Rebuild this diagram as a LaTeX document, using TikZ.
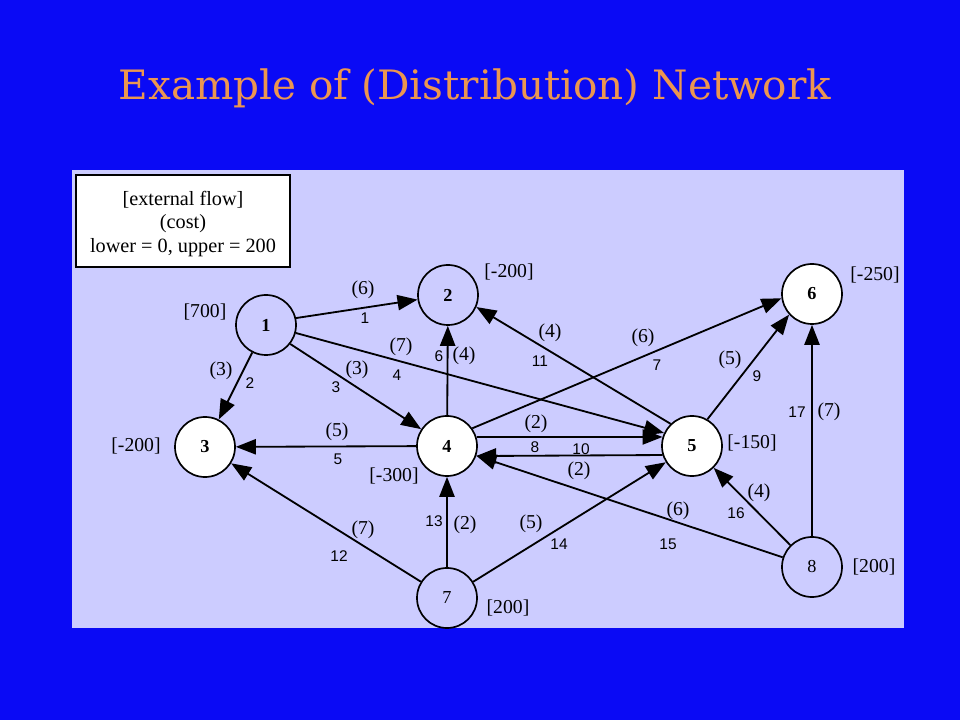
\documentclass[tikz,border=0pt]{standalone}
\usepackage{fontspec}
\setmainfont{Liberation Serif}
\setsansfont{Liberation Sans}
\newfontfamily\titlefont{DejaVu Serif}
\usetikzlibrary{arrows.meta,positioning}
\definecolor{slideblue}{RGB}{10,10,245}
\definecolor{panel}{RGB}{204,204,255}
\definecolor{titleorange}{RGB}{235,150,80}
\begin{document}
\begin{tikzpicture}[x=0.025cm,y=-0.025cm,
    vertex/.style={circle,draw,line width=1.2pt,minimum size=1.5cm,inner sep=0pt,fill=white,
                   font=\fontsize{13}{15}\selectfont\bfseries},
    pale/.style={vertex,fill=panel},
    arc/.style={line width=1.3pt,-{Triangle[length=0.5cm,width=0.38cm]}},
    cost/.style={font=\fontsize{14}{16}\selectfont,inner sep=0pt},
    idx/.style={font=\sffamily\fontsize{11}{13}\selectfont,inner sep=0pt},
    supply/.style={font=\fontsize{14}{16}\selectfont,inner sep=0pt}]
  % background and panel
  \useasboundingbox (0,0) rectangle (960,720);
  \fill[slideblue] (0,0) rectangle (960,720);
  \fill[panel] (72,170) rectangle (904,628);
  \node[text=titleorange,font=\titlefont\fontsize{28.8}{32}\selectfont] (title) at (475,88) {Example of (Distribution) Network};
  % legend
  \node[draw,fill=white,line width=1.2pt,minimum width=5.35cm,minimum height=2.3cm] (legend) at (183,221) {};
  \node[align=center,font=\fontsize{14.4}{16.7}\selectfont] (legendtext) at (183,224)
        {[external flow]\\(cost)\\lower = 0, upper = 200};
  % nodes
  \node[pale]   (n1) at (266,325) {1};
  \node[pale]   (n2) at (448,295) {2};
  \node[vertex] (n3) at (205,447) {3};
  \node[vertex] (n4) at (447,446) {4};
  \node[vertex] (n5) at (692,446) {5};
  \node[vertex] (n6) at (812,294) {6};
  \node[pale,font=\fontsize{13}{15}\selectfont] (n7) at (447,598) {7};
  \node[pale,font=\fontsize{13}{15}\selectfont] (n8) at (812,567) {8};
  % external flows
  \node[supply] (s1) at (205,312) {[700]};
  \node[supply] (s2) at (509,272) {[-200]};
  \node[supply] (s3) at (136,446) {[-200]};
  \node[supply] (s4) at (394,476) {[-300]};
  \node[supply] (s5) at (752,443) {[-150]};
  \node[supply] (s6) at (875,275) {[-250]};
  \node[supply] (s7) at (508,608) {[200]};
  \node[supply] (s8) at (874,567) {[200]};
  % arcs
  \draw[arc] (n1.13) -- (n2);
  \draw[arc] (n1) -- (n3);
  \draw[arc] (n1.-38) -- (n4);
  \draw[arc] (n1.-15) -- (n5.155);
  \draw[arc] (n4) -- (n2);
  \draw[arc] (n4) -- (n3);
  \draw[arc] (n4.35) -- (n6.188);
  \draw[arc] (n4.17) -- (n5.163);
  \draw[arc] (n5.197) -- (n4.341);
  \draw[arc] (n5.134) -- (n2.-23);
  \draw[arc] (n5.60) -- (n6.222);
  \draw[arc] (n7) -- (n3);
  \draw[arc] (n7) -- (n4);
  \draw[arc] (n7) -- (n5);
  \draw[arc] (n8) -- (n4);
  \draw[arc] (n8) -- (n5);
  \draw[arc] (n8) -- (n6);
  % arc labels: (cost) and arc number
  \node[cost] (c1) at (363,290) {(6)};  \node[idx] (i1) at (365,318) {1};
  \node[cost] (c2) at (221,371) {(3)};  \node[idx] (i2) at (250,383) {2};
  \node[cost] (c3) at (357,370) {(3)};  \node[idx] (i3) at (336,387) {3};
  \node[cost] (c4) at (401,347) {(7)};  \node[idx] (i4) at (397,375) {4};
  \node[cost] (c5) at (337,432) {(5)};  \node[idx] (i5) at (338,459) {5};
  \node[cost] (c6) at (464,356) {(4)};  \node[idx] (i6) at (439,356) {6};
  \node[cost] (c7) at (643,338) {(6)};  \node[idx] (i7) at (657,365) {7};
  \node[cost] (c8) at (536,424) {(2)};  \node[idx] (i8) at (535,447) {8};
  \node[cost] (c9) at (730,360) {(5)};  \node[idx] (i9) at (757,376) {9};
  \node[cost] (c10) at (579,471) {(2)}; \node[idx] (i10) at (581,449) {10};
  \node[cost] (c11) at (550,333) {(4)}; \node[idx] (i11) at (540,361) {11};
  \node[cost] (c12) at (363,530) {(7)}; \node[idx] (i12) at (339,556) {12};
  \node[cost] (c13) at (465,525) {(2)}; \node[idx] (i13) at (434,521) {13};
  \node[cost] (c14) at (531,524) {(5)}; \node[idx] (i14) at (559,544) {14};
  \node[cost] (c15) at (678,511) {(6)}; \node[idx] (i15) at (668,544) {15};
  \node[cost] (c16) at (759,493) {(4)}; \node[idx] (i16) at (736,513) {16};
  \node[cost] (c17) at (829,412) {(7)}; \node[idx] (i17) at (797,412) {17};
\end{tikzpicture}
\end{document}
